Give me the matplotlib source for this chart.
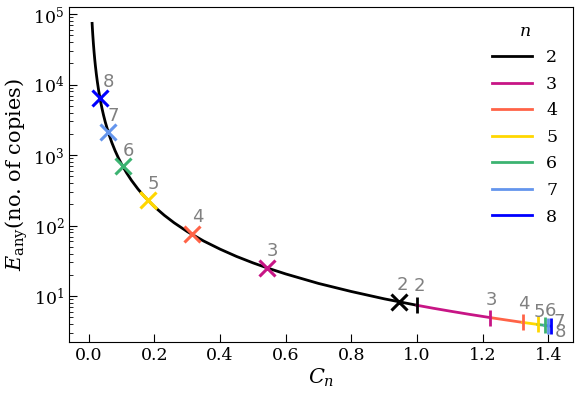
import matplotlib
matplotlib.use('Agg')
import matplotlib.pyplot as plt

plt.rcParams['font.family'] = 'DejaVu Serif'
plt.rcParams['mathtext.fontset'] = 'dejavuserif'

# curva (n = 2, negra)
c_curve = [0.01, 0.011, 0.012, 0.014, 0.016, 0.018, 0.02, 0.023, 0.026, 0.03,
           0.035, 0.04, 0.045, 0.05, 0.06, 0.07, 0.08, 0.09, 0.1, 0.115, 0.13,
           0.15, 0.17, 0.2, 0.23, 0.26, 0.3, 0.35, 0.4, 0.45, 0.5, 0.55, 0.6,
           0.7, 0.8, 0.9, 1.0]
e_curve = [74000, 61160, 51390, 37760, 28910, 22840, 18500, 13990, 10950, 8222,
           6041, 4625, 3654, 2960, 2056, 1510, 1156, 914, 740, 560, 438,
           329, 256, 185, 140, 109.5, 82.2, 60.4, 46.3, 36.5, 29.6, 24.5, 20.6,
           15.1, 11.6, 9.14, 7.4]

ns = [2, 3, 4, 5, 6, 7, 8]
colores = ['black', '#C71585', '#FF6347', '#FFD700', '#3CB371', '#6495ED', '#0000FF']

# cruces sobre la curva
c_cruz = [0.944, 0.542, 0.313, 0.179, 0.103, 0.059, 0.034]
e_cruz = [8.3, 25.2, 75.5, 231, 697, 2126, 6400]

# marcas verticales a la derecha
c_marca = [1.0, 1.224, 1.322, 1.369, 1.389, 1.399, 1.407]
e_marca = [7.4, 4.94, 4.23, 3.95, 3.84, 3.78, 3.74]

# tramos de color entre marcas
tramos_c = {3: [1.0, 1.05, 1.1, 1.16, 1.224], 4: [1.224, 1.27, 1.322], 5: [1.322, 1.369],
            6: [1.369, 1.389], 7: [1.389, 1.399], 8: [1.399, 1.407]}
tramos_e = {3: [7.4, 6.71, 6.12, 5.5, 4.94], 4: [4.94, 4.59, 4.23], 5: [4.23, 3.95],
            6: [3.95, 3.84], 7: [3.84, 3.78], 8: [3.78, 3.74]}

# pequeño tramo amarillo alrededor de la cruz 5
amarillo_c = [0.16, 0.17, 0.179, 0.19, 0.205]
amarillo_e = [289, 256, 231, 205, 176]

# desplazamientos de etiquetas (pixeles)
off_cruz = [(4, 17), (6, 17), (6, 17), (6, 16), (6, 15), (5, 16), (8, 16)]
off_marca = [(2, 19), (1, 18), (1, 18), (1, 12), (6, 14), (11, 4), (10, -6)]

fig, ax = plt.subplots(figsize=(5.81, 3.94), dpi=100)
fig.subplots_adjust(left=0.119, right=0.986, top=0.982, bottom=0.132)

ax.plot(c_curve, e_curve, color='black', lw=2, label='2', zorder=2)
for n, col in zip(ns[1:], colores[1:]):
    ax.plot(tramos_c[n], tramos_e[n], color=col, lw=2, label=str(n), zorder=2)
ax.plot(amarillo_c, amarillo_e, color='#FFD700', lw=2, zorder=2)

for i, col in enumerate(colores):
    ax.plot(c_cruz[i], e_cruz[i], marker='x', color=col, ms=11.5, mew=2.2, zorder=3)
    ax.plot(c_marca[i], e_marca[i], marker='|', color=col, ms=11, mew=2, zorder=3)
    ax.annotate(str(ns[i]), (c_cruz[i], e_cruz[i]), xytext=off_cruz[i],
                textcoords='offset pixels', ha='center', va='center',
                color='gray', fontsize=13, family='DejaVu Sans')
    ax.annotate(str(ns[i]), (c_marca[i], e_marca[i]), xytext=off_marca[i],
                textcoords='offset pixels', ha='center', va='center',
                color='gray', fontsize=13, family='DejaVu Sans')

ax.set_yscale('log')
ax.set_xlim(-0.06, 1.475)
ax.set_ylim(2.23, 1.26e5)
ax.set_xticks([0.0, 0.2, 0.4, 0.6, 0.8, 1.0, 1.2, 1.4])
ax.tick_params(which='both', direction='in', labelsize=12.5)
ax.tick_params(which='major', length=6)
ax.tick_params(which='minor', length=3)
ax.set_xlabel('$C_n$', fontsize=15, labelpad=2)
ax.set_ylabel(r'$E_{\rm any}$(no. of copies)', fontsize=15, labelpad=2)

ax.legend(title='$n$', loc='upper right', frameon=False, fontsize=12.5,
          title_fontsize=12.5, handlelength=2.3, labelspacing=0.55)

plt.savefig('out.png', dpi=100)
